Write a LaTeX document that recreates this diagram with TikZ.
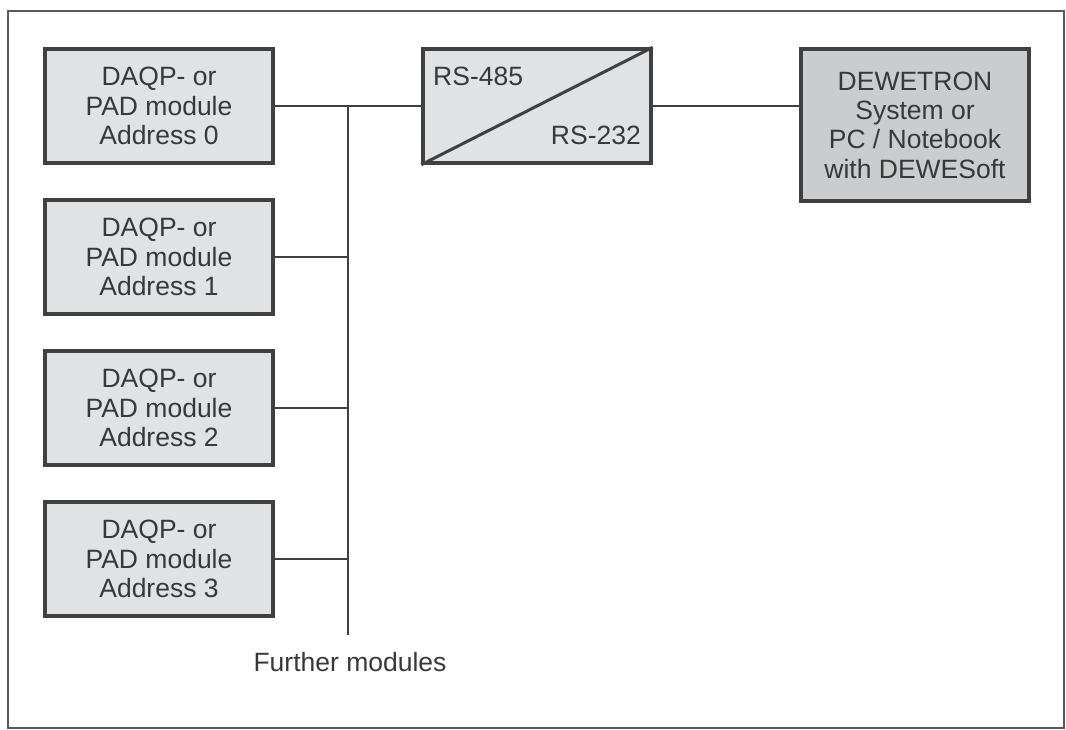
\documentclass[tikz,border=0pt]{standalone}
\usepackage{fontspec}
\setmainfont{Liberation Sans}
\definecolor{linecol}{HTML}{404040}
\definecolor{textcol}{HTML}{383838}
\definecolor{boxfill}{HTML}{E1E2E4}
\definecolor{pcfill}{HTML}{CBCCCD}
\definecolor{framecol}{HTML}{5A5A5A}
\begin{document}
\begin{tikzpicture}[x=1pt,y=-1pt,
  every node/.style={text=textcol,font=\fontsize{26.5}{29.3}\selectfont},
  modbox/.style={draw=linecol,line width=3.4pt,fill=boxfill,minimum width=228pt,minimum height=114pt,inner sep=0pt,align=center},
  pcbox/.style={modbox,fill=pcfill,minimum height=152pt},
  conn/.style={draw=linecol,line width=2.6pt},
  lbl/.style={inner sep=0pt}]
\useasboundingbox (0,0) rectangle (1066,730);
\draw[framecol,line width=1.8pt] (8,11) rectangle (1064,728);
\node[modbox] (m0) at (159,106) {DAQP- or\\PAD module\\Address 0};
\node[modbox] (m1) at (159,257) {DAQP- or\\PAD module\\Address 1};
\node[modbox] (m2) at (159,408) {DAQP- or\\PAD module\\Address 2};
\node[modbox] (m3) at (159,559) {DAQP- or\\PAD module\\Address 3};
\node[modbox] (conv) at (537,106) {};
\node[pcbox] (pc) at (915,125) {DEWETRON\\System or\\PC / Notebook\\with DEWESoft};
\draw[linecol,line width=3pt] (conv.south west) -- (conv.north east);
\node[lbl,anchor=base west] (rs485) at (433,86) {RS-485};
\node[lbl,anchor=base east] (rs232) at (641,145) {RS-232};
\coordinate (bustop) at (348,106);
\coordinate (busbot) at (348,635);
\node[lbl,anchor=base] (further) at (350,671) {Further modules};
\draw[conn] (m0.east) -- (conv.west);
\draw[conn] (bustop) -- (busbot);
\draw[conn] (m1.east) -- (m1.east -| bustop);
\draw[conn] (m2.east) -- (m2.east -| bustop);
\draw[conn] (m3.east) -- (m3.east -| bustop);
\draw[conn] (conv.east) -- (conv.east -| pc.west);
\end{tikzpicture}
\end{document}
